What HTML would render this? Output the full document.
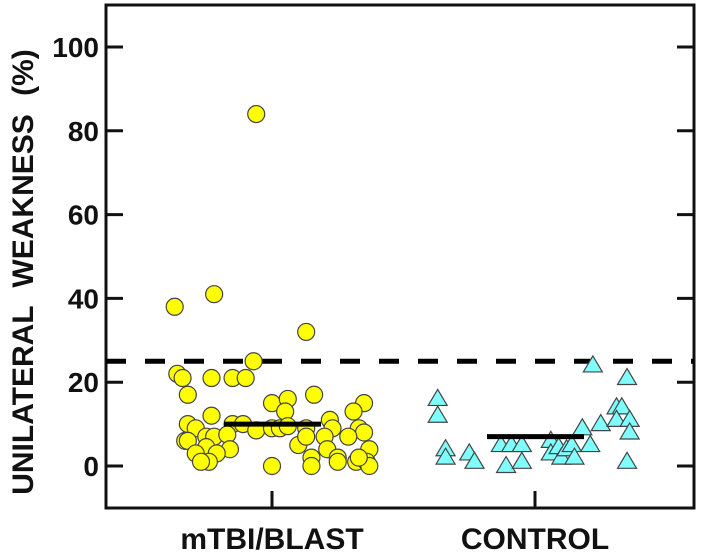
<!DOCTYPE html>
<html><head><meta charset="utf-8"><style>
html,body{margin:0;padding:0;background:#fff;}
svg{display:block;font-family:"Liberation Sans",sans-serif;}
</style></head><body>
<svg id="chart" width="709" height="554" viewBox="0 0 709 554"></svg>
<script>
const categories = ["mTBI/BLAST", "CONTROL"];
const yTicks = [0, 20, 40, 60, 80, 100];
const threshold = 25;
const means = [10, 7];
const mtbiValues = [38,41,32,25,22,21,21,21,21,17,17,15,16,13,15,13,12,10,9,10,10,8.5,9,9,9.5,9,11,9,9,8,7,6,6,7,7,7.5,4,4.5,3,3,1,1,0,5,7,2,0,7,4,2,1,1,4,1,0,2,84];
const mtbiJitter = [-0.37,-0.22,0.13,-0.07,-0.36,-0.34,-0.23,-0.15,-0.10,-0.32,0.16,0.00,0.06,0.05,0.35,0.31,-0.23,-0.32,-0.29,-0.15,-0.11,-0.06,0.00,0.03,0.06,0.13,0.22,0.23,0.33,0.35,0.29,-0.33,-0.32,-0.25,-0.22,-0.17,-0.16,-0.25,-0.21,-0.29,-0.24,-0.27,0.00,0.10,0.13,0.15,0.15,0.20,0.21,0.25,0.25,0.32,0.37,0.36,0.37,0.33,-0.06];
const controlValues = [16,12,4,2,3,1,0,1,5,5,5,6,3,4.5,2,4,5,2,9,5,10,24,21,14,14,11,11,8,1];
const controlJitter = [-0.37,-0.37,-0.34,-0.34,-0.25,-0.23,-0.11,-0.05,-0.13,-0.09,-0.05,0.06,0.06,0.09,0.10,0.12,0.14,0.15,0.18,0.21,0.25,0.22,0.35,0.31,0.33,0.31,0.36,0.36,0.35];

const L=106,R=694,T=5,B=508;
const y = v => 466 - v*4.19;
const catX = [272, 535];
const x = (c,j) => catX[c] + j*263;
const svg = document.getElementById('chart');
const NS='http://www.w3.org/2000/svg';
function mk(tag, attrs, parent){const e=document.createElementNS(NS,tag);for(const k in attrs)e.setAttribute(k,attrs[k]);(parent||svg).appendChild(e);return e;}

let fr = mk('rect',{x:L,y:T,width:R-L,height:B-T,fill:'none',stroke:'#111','stroke-width':3});



yTicks.forEach(v=>{
  let t=mk('line',{x1:L,x2:L+17,y1:y(v),y2:y(v),stroke:'#111','stroke-width':3});
  
  
  let t2=mk('line',{x1:R-17,x2:R,y1:y(v),y2:y(v),stroke:'#111','stroke-width':3});
  
  
  let lb=mk('text',{x:99,y:y(v)+10,'text-anchor':'end','font-size':28,'font-weight':'bold',fill:'#111'});
  lb.textContent=v;
  
  
});
categories.forEach((c,i)=>{
  let t=mk('line',{x1:catX[i],x2:catX[i],y1:B-17,y2:B,stroke:'#111','stroke-width':3});
  
  
  let lb=mk('text',{x:catX[i],y:549,'text-anchor':'middle','font-size':30,'font-weight':'bold',fill:'#111'});
  lb.textContent=c;
  
  
});
let yt=mk('text',{x:0,y:0,transform:'translate(33,272) rotate(-90)','text-anchor':'middle','font-size':30,'font-weight':'bold',fill:'#111','word-spacing':'10'});
yt.textContent='UNILATERAL  WEAKNESS  (%)';



let th=mk('line',{x1:L,x2:R,y1:y(threshold),y2:y(threshold),stroke:'#000','stroke-width':5,'stroke-dasharray':'20 19'});



mtbiValues.forEach((v,i)=>{
  let c=mk('circle',{cx:x(0,mtbiJitter[i]),cy:y(v),r:8.5,fill:'#ffff00',stroke:'#444','stroke-width':1.2});
  
  
});
controlValues.forEach((v,i)=>{
  const cx=x(1,controlJitter[i]), cy=y(v);
  let p=mk('polygon',{points:`${cx},${cy-9.5} ${cx-9.5},${cy+6.5} ${cx+9.5},${cy+6.5}`,fill:'#80ffff',stroke:'#444','stroke-width':1.2});
  
  
});
means.forEach((m,i)=>{
  let l=mk('line',{x1:catX[i]-48,x2:catX[i]+49,y1:y(m),y2:y(m),stroke:'#000','stroke-width':5});
  
  
});
</script>
</body></html>
